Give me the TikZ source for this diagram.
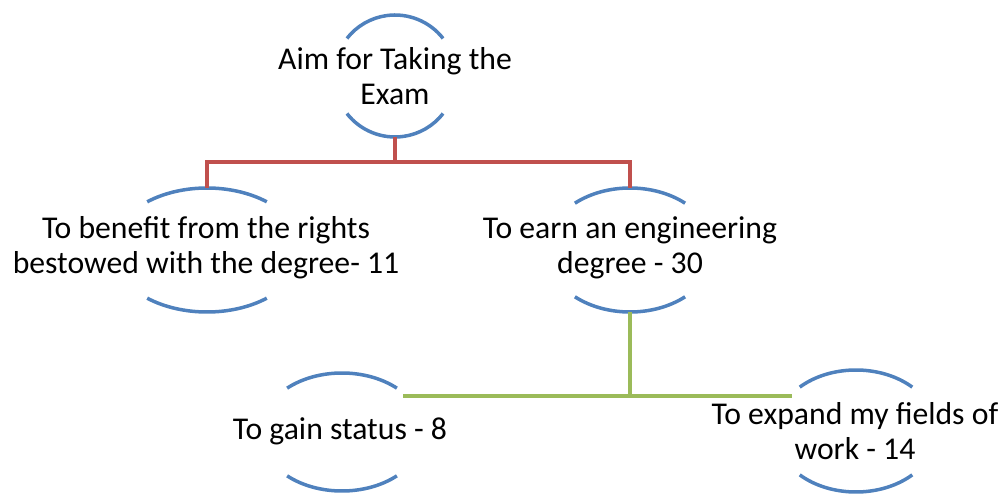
\documentclass[tikz,border=0pt]{standalone}
\usepackage{fontspec}
\setmainfont{Carlito}
\usetikzlibrary{shapes.geometric}
\definecolor{arcblue}{HTML}{4F81BD}
\definecolor{linkred}{HTML}{C0504D}
\definecolor{linkgreen}{HTML}{9BBB59}
\tikzset{
  holder/.style={ellipse, inner sep=0pt, draw=none},
  lbl/.style={align=center, inner sep=0pt, font=\fontsize{31.7}{35}\selectfont, text=black},
  arcline/.style={draw=arcblue, line width=3.5pt},
  redlink/.style={draw=linkred, line width=3.5pt},
  greenlink/.style={draw=linkgreen, line width=3.5pt},
}
\begin{document}
\begin{tikzpicture}[x=1pt,y=1pt]
\useasboundingbox (0,0) rectangle (1002,493);
% holders (ellipses whose top and bottom arcs are shown)
\node[holder, minimum width=122, minimum height=122] (top) at (395,417) {};
\node[holder, minimum width=190, minimum height=124] (left) at (207,243) {};
\node[holder, minimum width=168, minimum height=124] (mid) at (630,243) {};
\node[holder, minimum width=164, minimum height=118] (bl) at (342,61) {};
\node[holder, minimum width=162, minimum height=122] (br) at (856,62) {};
% texts
\node[lbl] (topt) at (395,417) {Aim for Taking the\\Exam};
\node[lbl] (leftt) at (206,245) {To benefit from the rights\\bestowed with the degree- 11};
\node[lbl] (midt) at (630,245) {To earn an engineering\\degree - 30};
\node[lbl] (blt) at (340,62) {To gain status - 8};
\node[lbl] (brt) at (855,62) {To expand my fields of\\work - 14};
% arcs
\draw[arcline] (top.center) ++(38:61 and 61) arc[start angle=38,end angle=142,x radius=61,y radius=61];
\draw[arcline] (top.center) ++(218:61 and 61) arc[start angle=218,end angle=322,x radius=61,y radius=61];
\draw[arcline] (left.center) ++(51:95 and 62) arc[start angle=51,end angle=129,x radius=95,y radius=62];
\draw[arcline] (left.center) ++(231:95 and 62) arc[start angle=231,end angle=309,x radius=95,y radius=62];
\draw[arcline] (mid.center) ++(49:84 and 62) arc[start angle=49,end angle=131,x radius=84,y radius=62];
\draw[arcline] (mid.center) ++(229:84 and 62) arc[start angle=229,end angle=311,x radius=84,y radius=62];
\draw[arcline] (bl.center) ++(48:82 and 59) arc[start angle=48,end angle=132,x radius=82,y radius=59];
\draw[arcline] (bl.center) ++(228:82 and 59) arc[start angle=228,end angle=312,x radius=82,y radius=59];
\draw[arcline] (br.center) ++(46:81 and 61) arc[start angle=46,end angle=134,x radius=81,y radius=61];
\draw[arcline] (br.center) ++(226:81 and 61) arc[start angle=226,end angle=314,x radius=81,y radius=61];
% red connectors
\coordinate (rj) at (395,331);
\draw[redlink] (top.south) -- (rj) -| (left.north);
\draw[redlink] (rj) -| (mid.north);
% green connectors
\coordinate (gj) at (630,97);
\coordinate (gl) at (403,97);
\coordinate (gr) at (792,97);
\draw[greenlink] (mid.south) -- (gj);
\draw[greenlink] (gl) -- (gr);
\end{tikzpicture}
\end{document}
